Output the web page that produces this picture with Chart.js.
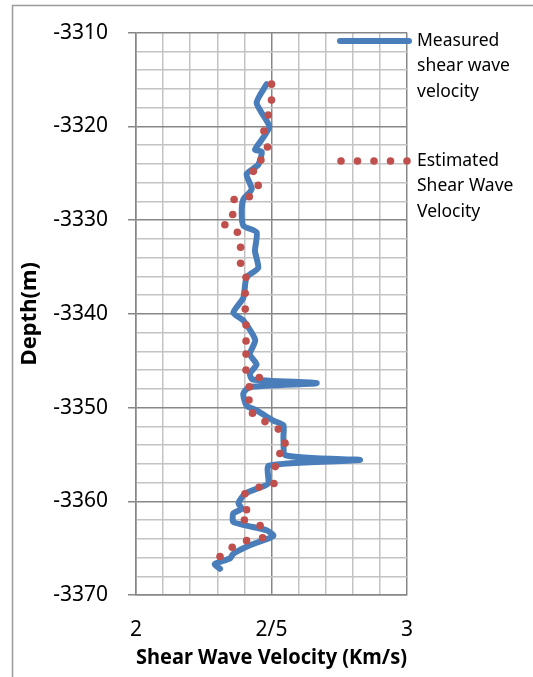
<!DOCTYPE html>
<html>
<head>
<meta charset="utf-8">
<script src="https://cdn.jsdelivr.net/npm/chart.js@4.4.0/dist/chart.umd.min.js"></script>
<style>
  html, body { margin: 0; padding: 0; background: #fff; }
  #wrap { width: 533px; height: 677px; position: relative; }
</style>
</head>
<body>
<div id="wrap"><canvas id="vsChart" width="533" height="677"></canvas></div>
<script>
// values: velocity (km/s) against depth (m)
const measuredDepth = [-3315.5, -3317.5, -3320.0, -3321.5, -3322.5, -3322.7, -3324.1, -3325.1, -3326.7, -3327.8,
  -3329.2, -3330.6, -3331.3, -3333.3, -3335.1, -3336.1, -3338.3, -3339.9, -3340.7, -3342.8,
  -3344.3, -3345.4, -3346.4, -3347.0, -3347.4, -3347.8, -3348.5, -3349.8, -3350.3, -3351.4,
  -3351.9, -3353.2, -3355.1, -3355.6, -3356.2, -3358.1, -3358.6, -3359.2, -3360.2, -3360.8,
  -3361.3, -3362.2, -3362.6, -3363.1, -3363.7, -3364.7, -3365.6, -3366.1, -3366.7, -3367.2];
const measuredVs = [2.482, 2.445, 2.492, 2.462, 2.439, 2.464, 2.451, 2.408, 2.427, 2.396,
  2.390, 2.396, 2.445, 2.439, 2.451, 2.408, 2.396, 2.359, 2.396, 2.440,
  2.420, 2.445, 2.420, 2.430, 2.667, 2.420, 2.396, 2.408, 2.445, 2.507,
  2.544, 2.544, 2.553, 2.827, 2.490, 2.488, 2.451, 2.402, 2.378, 2.390,
  2.359, 2.359, 2.408, 2.482, 2.507, 2.420, 2.359, 2.347, 2.291, 2.310];

const estimatedDepth = [-3315.5, -3317.2, -3318.8, -3320.5, -3322.2, -3323.6, -3324.8, -3326.3, -3327.5, -3327.8,
  -3329.4, -3330.5, -3331.3, -3332.9, -3334.6, -3336.1, -3337.8, -3339.5, -3341.2, -3342.9,
  -3344.3, -3346.0, -3346.8, -3347.8, -3349.2, -3350.6, -3351.5, -3352.3, -3353.8, -3354.9,
  -3356.3, -3358.1, -3358.5, -3359.2, -3360.9, -3362.0, -3362.6, -3363.9, -3364.2, -3364.9, -3365.9];
const estimatedVs = [2.500, 2.500, 2.488, 2.472, 2.485, 2.461, 2.433, 2.451, 2.418, 2.362,
  2.357, 2.328, 2.374, 2.386, 2.386, 2.406, 2.403, 2.403, 2.406, 2.406,
  2.406, 2.406, 2.455, 2.418, 2.417, 2.430, 2.476, 2.525, 2.550, 2.531,
  2.514, 2.509, 2.454, 2.402, 2.408, 2.400, 2.458, 2.467, 2.408, 2.355, 2.310];

const seriesNames = [
  ['Measured', 'shear wave', 'velocity'],
  ['Estimated', 'Shear Wave', 'Velocity']
];
const xTickLabels = { 20: '2', 25: '2/5', 30: '3' };

const FONT = '"Noto Sans", "DejaVu Sans", sans-serif';
const BLUE = '#4a7ebb';
const RED = '#c0504d';

const toPoints = (xs, ys) => xs.map((v, i) => ({ x: v, y: ys[i] }));

// grey frame round the chart, like the spreadsheet chart border
const framePlugin = {
  id: 'frame',
  beforeDraw(chart) {
    const c = chart.ctx;
    c.save();
    c.strokeStyle = '#9a9a9a';
    c.lineWidth = 1.5;
    c.beginPath();
    c.moveTo(12.5, chart.height);
    c.lineTo(12.5, 5.5);
    c.lineTo(chart.width, 5.5);
    c.stroke();
    c.restore();
  }
};

// legend with wrapped names, drawn beside the plot
const sideLegend = {
  id: 'sideLegend',
  afterDraw(chart) {
    const c = chart.ctx;
    const ds = chart.data.datasets;
    const textX = 417, lineH = 25.5;
    const rows = [41, 161];
    c.save();
    c.font = '17.5px ' + FONT;
    c.fillStyle = '#000';
    c.textBaseline = 'middle';
    ds.forEach((d, i) => {
      const y = rows[i];
      if (d.showLine) {
        c.strokeStyle = d.borderColor;
        c.lineWidth = d.borderWidth;
        c.lineCap = 'round';
        c.beginPath();
        c.moveTo(340, y);
        c.lineTo(409, y);
        c.stroke();
      } else {
        c.fillStyle = d.pointBackgroundColor;
        for (let k = 0; k < 5; k++) {
          c.beginPath();
          c.arc(341 + k * 16.5, y, d.pointRadius, 0, Math.PI * 2);
          c.fill();
        }
        c.fillStyle = '#000';
      }
      d.names.forEach((t, j) => c.fillText(t, textX, y + j * lineH));
    });
    c.restore();
  }
};

new Chart(document.getElementById('vsChart'), {
  type: 'scatter',
  data: {
    datasets: [{
      label: seriesNames[0].join(' '),
      names: seriesNames[0],
      data: toPoints(measuredVs, measuredDepth),
      showLine: true,
      borderColor: BLUE,
      borderWidth: 6,
      tension: 0.2,
      pointRadius: 0,
      borderCapStyle: 'round',
      borderJoinStyle: 'round',
      order: 2
    }, {
      label: seriesNames[1].join(' '),
      names: seriesNames[1],
      data: toPoints(estimatedVs, estimatedDepth),
      showLine: false,
      pointRadius: 3.8,
      pointBackgroundColor: RED,
      pointBorderWidth: 0,
      order: 1
    }]
  },
  options: {
    responsive: false,
    animation: false,
    layout: { padding: { left: 0, top: 31, right: 126, bottom: 0 } },
    plugins: {
      legend: { display: false },
      tooltip: { enabled: false }
    },
    scales: {
      x: {
        type: 'linear',
        min: 2,
        max: 3,
        afterFit: (s) => { s.height = 82; },
        ticks: {
          stepSize: 0.1,
          autoSkip: false,
          maxRotation: 0,
          padding: 22,
          color: '#000',
          font: { family: FONT, size: 21 },
          callback: (v) => xTickLabels[Math.round(v * 10)] || ''
        },
        grid: {
          drawTicks: false,
          lineWidth: 1.5,
          color: (ctx) => Math.round(ctx.tick.value * 10) % 5 === 0 ? '#878787' : '#c3c3c3'
        },
        border: { color: '#878787', width: 1.5 },
        title: {
          display: true,
          text: 'Shear Wave Velocity (Km/s)',
          color: '#000',
          font: { family: FONT, size: 20.5, weight: 'bold' },
          padding: { top: 0, bottom: 7 }
        }
      },
      y: {
        type: 'linear',
        min: -3370,
        max: -3310,
        afterFit: (s) => { s.width = 136; },
        ticks: {
          stepSize: 2,
          autoSkip: false,
          padding: 20,
          color: '#000',
          font: { family: FONT, size: 21 },
          callback: (v) => (Math.round(v) % 10 === 0 ? String(v) : '')
        },
        grid: {
          tickLength: 8,
          lineWidth: 1.5,
          color: (ctx) => Math.round(ctx.tick.value) % 10 === 0 ? '#878787' : '#c3c3c3',
          tickColor: (ctx) => Math.round(ctx.tick.value) % 10 === 0 ? '#878787' : 'rgba(0,0,0,0)'
        },
        border: { color: '#878787', width: 1.5 },
        title: {
          display: true,
          text: 'Depth(m)',
          color: '#000',
          font: { family: FONT, size: 22, weight: 'bold' },
          padding: { top: 17, bottom: 0 }
        }
      }
    }
  },
  plugins: [framePlugin, sideLegend]
});
</script>
</body>
</html>
